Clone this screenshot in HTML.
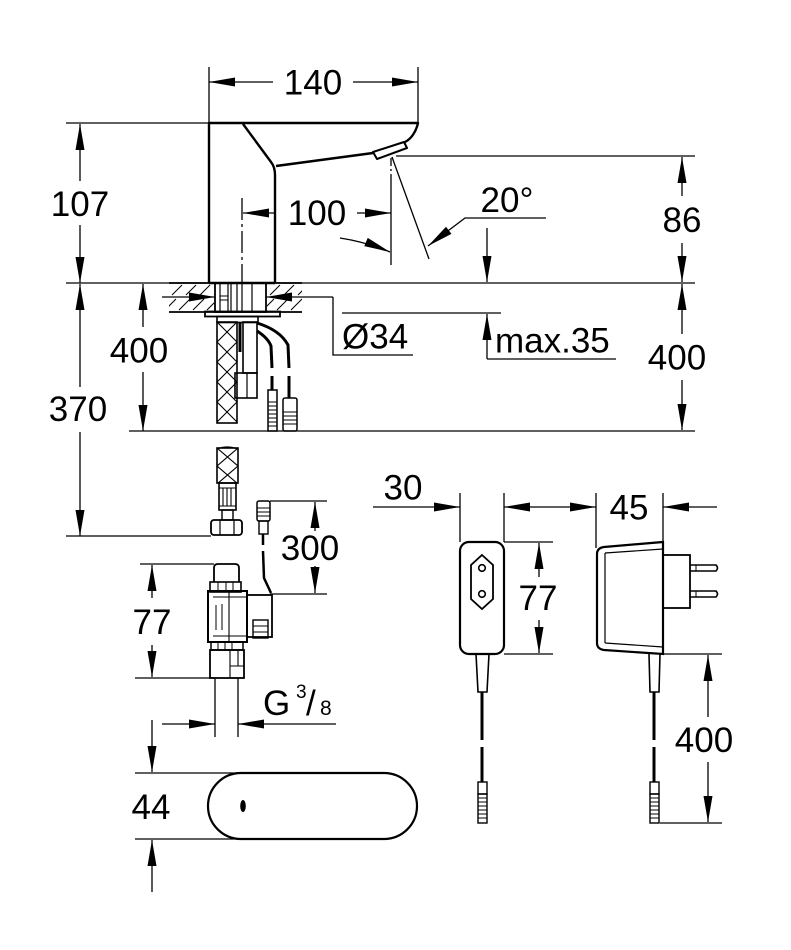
<!DOCTYPE html>
<html><head><meta charset="utf-8"><style>
html,body{margin:0;padding:0;background:#fff}
svg{display:block}
text{font-family:"Liberation Sans",Arial,sans-serif;font-size:35px;fill:#000}
</style></head><body>
<svg width="791" height="950" viewBox="0 0 791 950" xmlns="http://www.w3.org/2000/svg">
<defs>
<marker id="a" markerUnits="userSpaceOnUse" markerWidth="28" markerHeight="10" refX="26" refY="4.5" orient="auto" overflow="visible"><path d="M0,0 L26,4.5 L0,9 Z" fill="#000"/></marker>
<pattern id="xh" patternUnits="userSpaceOnUse" x="217" y="322" width="20" height="20"><path d="M0,0L20,20M20,0L0,20" stroke="#000" stroke-width="1.1"/></pattern>
<pattern id="xh2" patternUnits="userSpaceOnUse" x="217" y="448" width="21" height="18"><path d="M0,0L21,18M21,0L0,18" stroke="#000" stroke-width="1.1"/></pattern>
<clipPath id="cl"><rect x="169" y="283" width="45" height="29"/><rect x="267" y="283" width="35" height="29"/></clipPath>
</defs>

<!-- ===== dimension lines (thin) ===== -->
<g stroke="#000" stroke-width="1.3" fill="none">
  <line x1="209" y1="67" x2="209" y2="123"/>
  <line x1="418" y1="67" x2="418" y2="123"/>
  <line x1="273" y1="82" x2="209" y2="82" marker-end="url(#a)"/>
  <line x1="353" y1="82" x2="418" y2="82" marker-end="url(#a)"/>
  <line x1="66" y1="123" x2="209" y2="123"/>
  <line x1="80" y1="181" x2="80" y2="124" marker-end="url(#a)"/>
  <line x1="80" y1="225" x2="80" y2="283" marker-end="url(#a)"/>
  <line x1="66" y1="283" x2="695" y2="283"/>
  <line x1="80" y1="387" x2="80" y2="284" marker-end="url(#a)"/>
  <line x1="80" y1="432" x2="80" y2="536" marker-end="url(#a)"/>
  <line x1="66" y1="536" x2="211" y2="536"/>
  <line x1="143" y1="327" x2="143" y2="284" marker-end="url(#a)"/>
  <line x1="143" y1="372" x2="143" y2="431" marker-end="url(#a)"/>
  <line x1="129" y1="431" x2="695" y2="431"/>
  <line x1="396" y1="156" x2="695" y2="156"/>
  <line x1="682" y1="196" x2="682" y2="157" marker-end="url(#a)"/>
  <line x1="682" y1="243" x2="682" y2="282" marker-end="url(#a)"/>
  <line x1="682" y1="334" x2="682" y2="284" marker-end="url(#a)"/>
  <line x1="682" y1="380" x2="682" y2="430" marker-end="url(#a)"/>
  <line x1="242" y1="198" x2="242" y2="283" stroke-dasharray="22,4,3,4"/>
  <line x1="276" y1="213" x2="243" y2="213" marker-end="url(#a)"/>
  <line x1="357" y1="213" x2="391" y2="213" marker-end="url(#a)"/>
  <line x1="391" y1="158" x2="391" y2="178" stroke-dasharray="8,3,2,3"/>
  <line x1="391" y1="178" x2="391" y2="265"/>
  <line x1="392" y1="157" x2="429" y2="259"/>
  <path d="M340,238 Q366,242 390,252" marker-end="url(#a)"/>
  <path d="M546,218 L465,218 L428,246" marker-end="url(#a)"/>
  <line x1="487" y1="228" x2="487" y2="282" marker-end="url(#a)"/>
  <line x1="342" y1="313" x2="501" y2="313"/>
  <line x1="487" y1="359" x2="487" y2="314" marker-end="url(#a)"/>
  <line x1="487" y1="359" x2="616" y2="359"/>
  <line x1="162" y1="297" x2="215" y2="297" marker-end="url(#a)"/>
  <line x1="333" y1="297" x2="266" y2="297" marker-end="url(#a)"/>
  <path d="M333,297 L333,355 L413,355"/>
  <line x1="270" y1="501" x2="327" y2="501"/>
  <line x1="270" y1="594" x2="327" y2="594"/>
  <line x1="315" y1="531" x2="315" y2="502" marker-end="url(#a)"/>
  <line x1="315" y1="566" x2="315" y2="593" marker-end="url(#a)"/>
  <line x1="140" y1="564" x2="214" y2="564"/>
  <line x1="135" y1="678" x2="214" y2="678"/>
  <line x1="152" y1="598" x2="152" y2="565" marker-end="url(#a)"/>
  <line x1="152" y1="645" x2="152" y2="677" marker-end="url(#a)"/>
  <line x1="215" y1="678" x2="215" y2="737"/>
  <line x1="238" y1="678" x2="238" y2="737"/>
  <line x1="162" y1="724" x2="215" y2="724" marker-end="url(#a)"/>
  <line x1="336" y1="724" x2="238" y2="724" marker-end="url(#a)"/>
  <line x1="152" y1="720" x2="152" y2="772" marker-end="url(#a)"/>
  <line x1="152" y1="892" x2="152" y2="840" marker-end="url(#a)"/>
  <line x1="135" y1="773" x2="245" y2="773"/>
  <line x1="135" y1="839" x2="248" y2="839"/>
  <line x1="460" y1="493" x2="460" y2="542"/>
  <line x1="504" y1="493" x2="504" y2="542"/>
  <line x1="596" y1="493" x2="596" y2="548"/>
  <line x1="663" y1="493" x2="663" y2="542"/>
  <line x1="373" y1="507" x2="460" y2="507" marker-end="url(#a)"/>
  <line x1="550" y1="507" x2="504" y2="507" marker-end="url(#a)"/>
  <line x1="550" y1="507" x2="596" y2="507" marker-end="url(#a)"/>
  <line x1="717" y1="507" x2="663" y2="507" marker-end="url(#a)"/>
  <line x1="504" y1="542" x2="553" y2="542"/>
  <line x1="504" y1="654" x2="553" y2="654"/>
  <line x1="539" y1="577" x2="539" y2="543" marker-end="url(#a)"/>
  <line x1="539" y1="620" x2="539" y2="653" marker-end="url(#a)"/>
  <line x1="663" y1="654" x2="722" y2="654"/>
  <line x1="660" y1="823" x2="722" y2="823"/>
  <line x1="708" y1="717" x2="708" y2="655" marker-end="url(#a)"/>
  <line x1="708" y1="762" x2="708" y2="822" marker-end="url(#a)"/>
</g>

<!-- ===== faucet ===== -->
<g stroke="#000" stroke-width="2.4" fill="none" stroke-linejoin="round">
  <path d="M209,283 L209,123 L418,123 C416,132 411,139 405,142"/>
  <path d="M243,124 L271,162 Q275,167 275,175 L275,283"/>
  <path d="M276,166 L373,153"/>
  <path d="M373,152 L404,142 L407,148 L377,159 Z" stroke-width="2"/>
  <line x1="209" y1="283" x2="275" y2="283"/>
</g>

<!-- ===== counter ===== -->
<g stroke="#000" fill="none">
  <line x1="169" y1="283" x2="302" y2="283" stroke-width="1.8"/>
  <line x1="169" y1="312" x2="302" y2="312" stroke-width="1.8"/>
  <g clip-path="url(#cl)" stroke-width="1">
    <path d="M165,310L176,299M179,310L190,299M193,310L204,299M207,310L218,299
             M172,295L182,285M186,295L196,285M200,295L210,285M214,295L224,285
             M263,310L274,299M277,310L288,299M291,310L302,299
             M270,295L280,285M284,295L294,285M298,295L308,285"/>
  </g>
  <rect x="215" y="283" width="51" height="29" stroke-width="1.8"/>
  <path d="M220,283V312M228,283V312M231,283V312M237,283V312M242,283V312M252,283V312" stroke-width="1.2"/>
  <path d="M220,296H228M220,300H228" stroke-width="1"/>
  <rect x="205" y="311.5" width="75" height="5" stroke-width="1.8"/>
  <rect x="217" y="316.5" width="41" height="6" stroke-width="1.6"/>
  <rect x="217" y="322" width="20" height="101" fill="url(#xh)" stroke-width="1.6"/>
  <line x1="240" y1="322" x2="240" y2="352" stroke-width="3"/>
  <rect x="243" y="322" width="14" height="51" stroke-width="1.6"/>
  <rect x="235" y="373" width="22" height="25" stroke-width="1.6"/>
  <line x1="247" y1="373" x2="247" y2="398" stroke-width="1.2"/>
  <path d="M257,331 Q268,338 271,346 L272,368" stroke-width="3"/>
  <path d="M272,376 L272,390" stroke-width="3"/>
  <path d="M257,323 Q280,330 288,345 L289,368" stroke-width="3"/>
  <path d="M289,376 L289,398" stroke-width="3"/>
  <rect x="268" y="390" width="9" height="41" stroke-width="1.5"/>
  <path d="M268,402H277M268,406H277M268,410H277M268,414H277M268,418H277M268,422H277M268,426H277" stroke-width="1"/>
  <rect x="283" y="398" width="14" height="33" rx="2" stroke-width="1.5"/>
  <path d="M283,412H297M283,416H297M283,420H297M283,424H297" stroke-width="1"/>
</g>

<!-- ===== lower hose & valve ===== -->
<g stroke="#000" fill="none">
  <path d="M217,449 Q227,445 238,449" stroke-width="1.2"/>
  <rect x="217" y="448" width="21" height="35" fill="url(#xh2)" stroke-width="1.6"/>
  <rect x="219" y="483" width="17" height="27" stroke-width="1.6"/>
  <path d="M223,488V506M227,488V506M231,488V506M219,488H236M219,506H236" stroke-width="1.1"/>
  <rect x="222" y="510" width="11" height="10" stroke-width="1.4"/>
  <rect x="211" y="520" width="31" height="15" rx="3" stroke-width="1.8"/>
  <path d="M220,520V535M234,520V535" stroke-width="1.2"/>
  <rect x="257" y="501" width="13" height="20" rx="2" stroke-width="1.5"/>
  <path d="M257,508H270M257,512H270M257,516H270" stroke-width="1"/>
  <rect x="259" y="521" width="9" height="13" stroke-width="1.4"/>
  <path d="M263,534 L263,545" stroke-width="2.5"/>
  <path d="M263,551 L264,578 L271,593" stroke-width="2.5"/>
  <path d="M214,582 V568 Q214,564 218,564 H235 Q239,564 239,568 V582" stroke-width="1.8"/>
  <rect x="210" y="582" width="31" height="10" stroke-width="1.6"/>
  <path d="M218,582V592M226,582V592M233,582V592" stroke-width="1"/>
  <rect x="208" y="591" width="39" height="51" stroke-width="2"/>
  <path d="M229,591V642M213,597H246M213,636H246" stroke-width="1.1"/>
  <path d="M216,605 L216,630 M222,604 L222,630" stroke-width="1"/>
  <rect x="247" y="595" width="25" height="42" stroke-width="1.8"/>
  <rect x="253" y="620" width="15" height="18" stroke-width="1.4"/>
  <path d="M253,626H268M253,632H268" stroke-width="1"/>
  <rect x="211" y="642" width="32" height="8" stroke-width="1.5"/>
  <path d="M218,642V650M225,642V650M232,642V650" stroke-width="1"/>
  <rect x="210" y="650" width="34" height="28" stroke-width="1.8"/>
  <path d="M230,650V678M238,650V666M230,666H244" stroke-width="1.1"/>
  <rect x="208" y="773" width="209" height="66" rx="33" ry="33" stroke-width="2.2"/>
</g>
<ellipse cx="243" cy="806" rx="2.8" ry="6" fill="#000"/>

<!-- ===== power plug ===== -->
<g stroke="#000" fill="none">
  <rect x="460" y="542" width="44" height="112" rx="9" stroke-width="2.2"/>
  <path d="M482,555 L493,565 L493,599 L482,609 L471,599 L471,565 Z" stroke-width="1.8"/>
  <circle cx="482" cy="568" r="3.3" stroke-width="1.6"/>
  <circle cx="482" cy="594" r="3.3" stroke-width="1.6"/>
  <path d="M476,654 L478,692 L487,692 L489,654" stroke-width="1.6"/>
  <path d="M482,692 V740 M482,747 V782" stroke-width="3"/>
  <rect x="478" y="782" width="9" height="12" stroke-width="1.4"/>
  <rect x="478" y="794" width="9" height="29" stroke-width="1.4"/>
  <path d="M478,798H487M478,802H487M478,806H487M478,810H487M478,814H487M478,818H487" stroke-width="1"/>

  <path d="M597,554 Q597,548 604,547 L663,542 L663,654 L604,650 Q597,649 597,643 Z" stroke-width="2.2"/>
  <path d="M605,553 L663,549 M605,553 V643 M605,643 L663,647" stroke-width="1.2"/>
  <rect x="663" y="555" width="27" height="53" stroke-width="1.8"/>
  <path d="M690,565 H716 Q719,568 716,571 H690" stroke-width="1.6"/>
  <path d="M690,591 H716 Q719,594 716,597 H690" stroke-width="1.6"/>
  <path d="M696,565V571M696,591V597" stroke-width="1"/>
  <path d="M649,654 L650,692 L659,692 L660,654" stroke-width="1.6"/>
  <path d="M654,692 V740 M654,747 V782" stroke-width="3"/>
  <rect x="650" y="782" width="9" height="12" stroke-width="1.4"/>
  <rect x="650" y="794" width="9" height="29" stroke-width="1.4"/>
  <path d="M650,798H659M650,802H659M650,806H659M650,810H659M650,814H659M650,818H659" stroke-width="1"/>
</g>

<!-- ===== texts ===== -->
<text x="313" y="94.5" text-anchor="middle">140</text>
<text x="80" y="216" text-anchor="middle">107</text>
<text x="317" y="225" text-anchor="middle">100</text>
<text x="507" y="212" text-anchor="middle">20°</text>
<text x="682" y="232" text-anchor="middle">86</text>
<text x="342" y="348.5">Ø34</text>
<text x="495" y="352.5">max.35</text>
<text x="139" y="362.5" text-anchor="middle">400</text>
<text x="677" y="369.5" text-anchor="middle">400</text>
<text x="78" y="421" text-anchor="middle">370</text>
<text x="310" y="560" text-anchor="middle">300</text>
<text x="152" y="634" text-anchor="middle">77</text>
<text x="263" y="715">G</text>
<text x="296" y="698" style="font-size:19px">3</text>
<text x="306" y="715">/</text>
<text x="320" y="715" style="font-size:21px">8</text>
<text x="151" y="819" text-anchor="middle">44</text>
<text x="403" y="499.5" text-anchor="middle">30</text>
<text x="629" y="519.5" text-anchor="middle">45</text>
<text x="538" y="610" text-anchor="middle">77</text>
<text x="704" y="752" text-anchor="middle">400</text>
</svg>
</body></html>
